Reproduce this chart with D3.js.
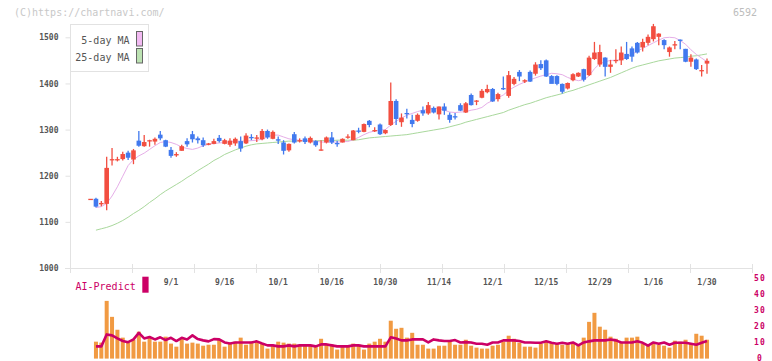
<!DOCTYPE html>
<html><head><meta charset="utf-8">
<script src="https://cdn.jsdelivr.net/npm/d3@7"></script>
<style>html,body{margin:0;padding:0;background:#fff;}svg{display:block;}</style>
</head><body>
<svg id="c" width="772" height="361"></svg>
<script>
const dates = ["8/8","8/12","8/13","8/14","8/15","8/18","8/19","8/20","8/21","8/22","8/25","8/26","8/27","8/28","8/29",
"9/1","9/2","9/3","9/4","9/5","9/8","9/9","9/10","9/11","9/12","9/16","9/17","9/18","9/19","9/22","9/24","9/25","9/26","9/29","9/30",
"10/1","10/2","10/3","10/6","10/7","10/8","10/9","10/10","10/14","10/15","10/16","10/17","10/20","10/21","10/22","10/23","10/24","10/27","10/28","10/29","10/30","10/31",
"11/4","11/5","11/6","11/7","11/10","11/11","11/12","11/13","11/14","11/17","11/18","11/19","11/20","11/21","11/25","11/26","11/27","11/28",
"12/1","12/2","12/3","12/4","12/5","12/8","12/9","12/10","12/11","12/12","12/15","12/16","12/17","12/18","12/19","12/22","12/23","12/24","12/25","12/26","12/29","12/30",
"1/5","1/6","1/7","1/8","1/9","1/13","1/14","1/15","1/16","1/19","1/20","1/21","1/22","1/23","1/26","1/27","1/28","1/29","1/30"];
const tickLabels = ["9/1","9/16","10/1","10/16","10/30","11/14","12/1","12/15","12/29","1/16","1/30"];
const priceTicks = [1000,1100,1200,1300,1400,1500];
const aiTicks = [0,10,20,30,40,50];

const opens = [1150,1150,1138,1139,1235,1235,1236,1250,1235,1276,1264,1275,1274,1289,1277,
1256,1244,1254,1275,1290,1281,1277,1267,1269,1282,1269,1267,1270,1275,1270,1284,1282,1279,1297,1280,
1279,1272,1255,1290,1276,1281,1272,1275,1256,1272,1283,1271,1272,1284,1277,1298,1295,1319,1298,1311,1292,1310,
1362,1316,1336,1321,1319,1342,1335,1347,1333,1350,1332,1329,1353,1337,1375,1362,1369,1381,
1388,1366,1390,1373,1399,1425,1404,1425,1421,1442,1450,1416,1416,1399,1389,1407,1415,1431,1418,1453,1441,1456,
1436,1450,1450,1464,1476,1488,1478,1488,1496,1501,1494,1468,1484,1495,1475,1447,1452,1428,1443];
const highs = [1150,1152,1145,1241,1260,1241,1252,1254,1258,1297,1288,1278,1283,1297,1278,
1262,1251,1267,1281,1297,1285,1283,1271,1280,1288,1280,1281,1283,1285,1292,1290,1288,1301,1300,1298,
1285,1277,1270,1295,1281,1285,1285,1277,1277,1285,1295,1276,1281,1290,1299,1304,1313,1321,1305,1313,1300,1402,
1366,1335,1345,1332,1335,1350,1360,1350,1350,1357,1337,1336,1357,1360,1378,1364,1388,1397,
1390,1380,1415,1427,1414,1429,1409,1428,1446,1450,1452,1418,1418,1400,1402,1422,1424,1432,1460,1490,1484,1457,
1451,1474,1480,1490,1480,1490,1497,1506,1529,1509,1496,1480,1492,1495,1475,1463,1454,1440,1454];
const lows = [1150,1131,1134,1125,1222,1231,1233,1234,1225,1263,1263,1263,1267,1277,1262,
1239,1241,1254,1263,1272,1270,1262,1266,1268,1272,1268,1263,1265,1252,1269,1277,1273,1277,1280,1279,
1269,1246,1252,1270,1272,1269,1270,1263,1254,1270,1269,1263,1272,1280,1277,1292,1294,1305,1295,1288,1290,1308,
1310,1306,1324,1305,1317,1330,1332,1335,1322,1332,1315,1322,1340,1336,1352,1353,1368,1379,
1360,1361,1386,1369,1396,1405,1401,1403,1417,1429,1414,1412,1396,1378,1387,1405,1414,1404,1416,1451,1436,1415,
1423,1444,1440,1451,1447,1465,1469,1483,1491,1483,1474,1458,1474,1474,1446,1436,1429,1415,1421];
const closes = [1150,1133,1141,1217,1236,1236,1247,1239,1255,1265,1273,1277,1280,1281,1263,
1243,1247,1264,1268,1279,1277,1266,1270,1275,1275,1277,1276,1280,1259,1287,1283,1283,1297,1283,1295,
1276,1254,1269,1272,1277,1273,1282,1266,1257,1283,1272,1270,1280,1285,1298,1296,1312,1310,1299,1290,1299,1362,
1323,1326,1335,1312,1332,1335,1353,1337,1350,1341,1321,1328,1341,1357,1353,1363,1384,1388,
1361,1377,1388,1418,1410,1415,1407,1404,1441,1433,1415,1399,1399,1382,1401,1420,1423,1408,1456,1467,1468,1436,
1441,1451,1467,1453,1458,1467,1490,1501,1524,1508,1483,1478,1485,1494,1447,1456,1431,1429,1449];
const ma5 = [null,1131,1133,1140,1156,1176,1199,1222,1235,1243,1249,1257,1265,1272,1274,
1272,1268,1262,1259,1257,1260,1265,1268,1270,1271,1272,1274,1275,1275,1275,1276,1277,1279,1284,1288,
1288,1284,1280,1278,1277,1276,1276,1275,1273,1273,1273,1273,1274,1274,1278,1283,1289,1294,1297,1299,1300,1310,
1318,1325,1331,1335,1339,1342,1344,1346,1345,1342,1338,1337,1338,1339,1342,1344,1348,1357,
1363,1369,1375,1385,1392,1398,1403,1408,1412,1416,1419,1422,1421,1419,1413,1409,1406,1408,1416,1432,1443,1447,
1450,1450,1452,1457,1463,1470,1476,1482,1488,1494,1499,1500,1499,1493,1485,1473,1463,1455,1447];
const ma25 = [null,1082,1085,1088,1092,1097,1103,1110,1118,1125,1133,1142,1150,1159,1167,
1174,1181,1188,1196,1203,1211,1218,1225,1233,1239,1246,1251,1256,1260,1264,1267,1269,1270,1271,1272,
1273,1274,1275,1275,1276,1276,1276,1276,1276,1276,1276,1277,1277,1277,1277,1278,1280,1282,1283,1284,1285,1286,
1287,1288,1289,1291,1293,1295,1297,1299,1301,1303,1306,1309,1312,1316,1319,1322,1325,1328,
1331,1334,1337,1342,1346,1350,1354,1357,1361,1365,1369,1372,1375,1378,1382,1385,1389,1393,1397,1401,1405,1409,
1413,1418,1423,1428,1433,1437,1440,1443,1446,1449,1451,1453,1455,1456,1457,1459,1460,1462,1464];
const volume = [null,10.5,9.9,35.8,25.9,17.9,13,9.9,11.7,16.7,10.5,13,10.5,10.5,13.6,
9.3,7.4,12.3,9.3,9.9,9.3,8,8.6,8.6,11.7,7.4,9.3,10.5,13,8.6,10.5,10.5,9.3,6.2,8,
10.5,9.9,9.3,9.3,8.6,8.6,8.6,8,12.3,9.3,8.6,5.6,8,8,9.3,8.6,5.6,9.3,10.5,12.3,10.5,23.5,
18.5,19.1,13,16,8.6,8.6,6.2,6.2,8,8,10.5,8.6,8.6,11.7,8,6.8,6.2,6.2,
8,8.6,10.5,14.2,12.3,9.9,7.4,7.4,6.8,9.3,10.5,9.9,9.3,8.6,9.3,9.9,8.6,13,22.8,28.4,19.8,17.9,
13.6,12.3,9.9,13,13,13.6,9.3,8.6,9.9,8.6,8,6.8,11.1,10.5,11.7,9.3,15.4,14.2,11.7];
const aiPredict = [null,7.6,7.6,15,14.4,12.5,10.9,10.2,11.9,16,12.5,13.4,11.9,13.2,11.5,
12.9,10.9,12.9,11.9,14.4,12.1,11.3,10.7,12.1,11.9,10,9.4,10,10,10,10,10.7,9.4,8.2,8.2,
7.6,7.6,8.2,7.6,8.2,8.2,8.2,7.6,8.8,8.8,8.2,7.6,7.6,7.6,8.2,8.2,7.6,7.6,7.6,7.6,7.6,13.2,
12.5,11.3,11.3,11.9,11.9,11.9,10,11.9,11.3,10.9,10.9,11.5,10,10.2,10,9.2,9.2,8.6,
10,10,11.3,11.3,11.3,10.9,10,10,9.8,9.8,10.7,9.8,9.2,9.8,9.2,10,8.2,10,10.7,11.3,11.3,11.3,
11.9,11.3,10,10,10,10.7,9.8,8,10,9.2,10,8.6,9.8,9.8,9.8,9.2,8.6,9.8,10.9];

const svg = d3.select("#c");
const W = 772;
const mono = "'DejaVu Sans Mono', monospace";
const red = "#f24e40", blue = "#4179ee", grid = "#e2e2e2";

svg.append("rect").attr("width", W).attr("height", 361).attr("fill", "#fff");

const x = d3.scaleLinear().domain([0, dates.length - 1]).range([90.6, 707]);
const y = d3.scaleLinear().domain([1000, 1500]).range([268, 37.3]);
const yv = d3.scaleLinear().domain([0, 50]).range([358.6, 278]);
const plotL = 70, plotR = 752;

// watermark
svg.append("text").attr("x", 14).attr("y", 16).attr("font-family", mono).attr("font-size", 10)
  .attr("fill", "#c8c8c8").text("(C)https://chartnavi.com/");
svg.append("text").attr("x", 757).attr("y", 16).attr("text-anchor", "end").attr("font-family", mono)
  .attr("font-size", 10).attr("fill", "#bdbdbd").text("6592");

// axes
svg.append("line").attr("x1", plotL + 0.5).attr("x2", plotL + 0.5).attr("y1", 24).attr("y2", 268)
  .attr("stroke", grid);
svg.append("line").attr("x1", 65).attr("x2", plotR + 0.5).attr("y1", 268.5).attr("y2", 268.5).attr("stroke", grid);
const yAxis = d3.axisLeft(y).tickValues(priceTicks).tickSize(5).tickPadding(6).tickFormat(d3.format("d"));
const gy = svg.append("g").attr("transform", `translate(${plotL + 0.5},0)`).call(yAxis);
gy.select(".domain").remove();
gy.selectAll("line").attr("stroke", grid);
gy.selectAll("text").attr("font-family", mono).attr("font-size", 8).attr("font-weight", "bold")
  .attr("fill", "#555").attr("dx", -1);

const xTicks = d3.range(12).map(k => plotL + k * (plotR - plotL) / 11);
svg.append("g").selectAll("line").data(xTicks).join("line")
  .attr("x1", d => Math.round(d) + 0.5).attr("x2", d => Math.round(d) + 0.5)
  .attr("y1", 264).attr("y2", 273).attr("stroke", grid);
svg.append("g").selectAll("text").data(tickLabels).join("text")
  .attr("x", d => x(dates.indexOf(d))).attr("y", 285).attr("text-anchor", "middle")
  .attr("font-family", mono).attr("font-size", 8).attr("font-weight", "bold").attr("fill", "#555").text(d => d);

// moving averages
const idx = d3.range(dates.length);
const line = arr => d3.line().defined(i => arr[i] != null).x(i => x(i)).y(i => y(arr[i]));
svg.append("path").attr("d", line(ma25)(idx)).attr("fill", "none").attr("stroke", "#a9d89c").attr("stroke-width", 1);
svg.append("path").attr("d", line(ma5)(idx)).attr("fill", "none").attr("stroke", "#e6aee8").attr("stroke-width", 1);

// candles
const cw = 4.6;
const cg = svg.append("g");
idx.forEach(i => {
  const up = closes[i] >= opens[i];
  const col = up ? red : blue;
  const cx = x(i);
  cg.append("line").attr("x1", cx).attr("x2", cx).attr("y1", y(highs[i])).attr("y2", y(lows[i]))
    .attr("stroke", col).attr("stroke-width", 1.3);
  const top = y(Math.max(opens[i], closes[i])), bot = y(Math.min(opens[i], closes[i]));
  cg.append("rect").attr("x", cx - cw / 2).attr("y", top).attr("width", cw).attr("height", Math.max(1.3, bot - top))
    .attr("fill", col);
});

// legend
svg.append("rect").attr("x", 70.5).attr("y", 24.5).attr("width", 78).attr("height", 47)
  .attr("fill", "#fff").attr("stroke", grid);
const legend = [["5-day MA", "#f2baf2"], ["25-day MA", "#bce2b2"]];
legend.forEach((d, k) => {
  svg.append("text").attr("x", 129.5).attr("y", 44 + k * 16.5).attr("text-anchor", "end")
    .attr("font-family", mono).attr("font-size", 10).attr("fill", "#555").text(d[0]);
  svg.append("rect").attr("x", 136.5).attr("y", 31.5 + k * 17).attr("width", 6).attr("height", 14.5)
    .attr("fill", d[1]).attr("stroke", "#666");
});

// volume / AI predict
svg.append("g").selectAll("rect").data(idx.filter(i => volume[i] != null)).join("rect")
  .attr("x", i => x(i) - 2).attr("width", 4).attr("y", i => yv(volume[i]))
  .attr("height", i => yv(0) - yv(volume[i])).attr("fill", "#f19a42");
svg.append("path").attr("d", d3.line().defined(i => aiPredict[i] != null).x(i => x(i)).y(i => yv(aiPredict[i]))(idx))
  .attr("fill", "none").attr("stroke", "#cc0066").attr("stroke-width", 2.6).attr("stroke-linejoin", "round");
svg.append("g").selectAll("text").data(aiTicks).join("text")
  .attr("x", 760).attr("y", d => Math.min(yv(d) + 2.5, 360.5)).attr("text-anchor", "middle").attr("font-family", mono)
  .attr("font-size", 8).attr("font-weight", "bold").attr("letter-spacing", 1.2).attr("fill", "#cc0066").text(d => d);
svg.append("text").attr("x", 75.5).attr("y", 290).attr("font-family", mono).attr("font-size", 10)
  .attr("fill", "#cc0066").text("AI-Predict");
svg.append("rect").attr("x", 142.3).attr("y", 276.7).attr("width", 6.3).attr("height", 16).attr("fill", "#cc0066");
</script>
</body></html>
